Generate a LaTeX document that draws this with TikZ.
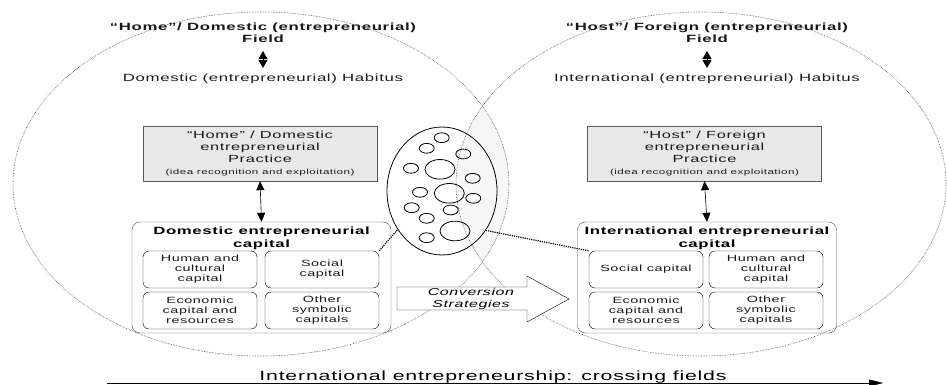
\documentclass[tikz,border=0pt]{standalone}
\usepackage{fontspec}
\setmainfont[FakeStretch=1.6,LetterSpace=6]{Liberation Sans}
\usetikzlibrary{arrows.meta,shapes.geometric}

\tikzset{
  fieldtitle/.style={align=center,inner sep=0pt,text=black!90,font=\fontsize{10.5}{12}\selectfont\bfseries},
  habitus/.style={inner sep=0pt,text=black!90,font=\fontsize{10.5}{12}\selectfont},
  practice/.style={draw=gray!70!black,fill=gray!18,minimum width=234pt,minimum height=55pt,align=center,inner sep=0pt,text=black!90,font=\fontsize{10.3}{12}\selectfont},
  capital/.style={draw=gray!60!black,rounded corners=8pt,minimum width=259pt,minimum height=111pt},
  captitle/.style={align=center,inner sep=0pt,font=\fontsize{10.5}{12.5}\selectfont\bfseries},
  capkind/.style={draw,rounded corners=6pt,minimum width=114pt,minimum height=37pt,align=center,inner sep=0pt,text=black!90,font=\fontsize{9}{10}\selectfont},
  field/.style={draw=black!70,densely dotted,line width=0.6pt},
  bubble/.style={draw,line width=0.8pt},
  link/.style={very thick,densely dotted},
  twoway/.style={line width=0.6pt,{Triangle[width=8pt,length=9pt]}-{Triangle[width=8pt,length=9pt]}},
  bigtwoway/.style={line width=1pt,{Triangle[width=9pt,length=8pt]}-{Triangle[width=9pt,length=8pt]}},
}

\begin{document}
\begin{tikzpicture}[x=1pt,y=-1pt]
  \useasboundingbox (0,0) rectangle (947,385);
  % the two fields and their overlap
  \begin{scope}
    \clip (261,184) ellipse [x radius=248pt,y radius=172pt];
    \fill[gray!6] (701,184) ellipse [x radius=245pt,y radius=172pt];
  \end{scope}
  \draw[field] (261,184) ellipse [x radius=248pt,y radius=172pt];
  \draw[field] (701,184) ellipse [x radius=245pt,y radius=172pt];

  % pool of capitals
  \node[draw,ellipse,line width=0.8pt,minimum width=110pt,minimum height=128pt,inner sep=0pt] (pool) at (442,191) {};
  \foreach \bx/\by/\bs in {441.7/137.7/1, 426.7/148.3/1, 463.3/154/1, 411/168.3/1,
      440/169.3/2, 472.7/178.3/1, 420/192.3/1, 449.3/193.3/2, 473.3/198.3/1,
      411.7/207.7/1, 450.7/210/1, 426.7/218.3/1, 455/231/2, 426.7/237.7/1}
    \draw[bubble] (\bx,\by) ellipse [x radius={7.5pt*\bs},y radius={4.9pt*\bs}];

  % home side
  \node[fieldtitle] (homefield) at (263,33) {``Home''/ Domestic (entrepreneurial)\\Field};
  \node[habitus] (homehabitus) at (263,79) {Domestic (entrepreneurial) Habitus};
  \draw[bigtwoway] (263,51) -- (263,68);
  \node[practice] (homepractice) at (260,153.5) {``Home'' / Domestic\\entrepreneurial\\Practice\\{\fontsize{7.3}{8}\selectfont (idea recognition and exploitation)}};
  \node[capital] (homecapital) at (261.5,277.5) {};
  \node[captitle] (homecaptitle) at (261.5,238.5) {Domestic entrepreneurial\\capital};
  \node[capkind] (dhuman) at (200,269.5) {Human and\\cultural\\capital};
  \node[capkind] (dsocial) at (322,269.5) {Social\\capital};
  \node[capkind] (decon) at (200,310.5) {Economic\\capital and\\resources};
  \node[capkind] (dother) at (322,310.5) {Other\\symbolic\\capitals};
  \draw[twoway] (homepractice.south) -- (homecapital.north);

  % host side
  \node[fieldtitle] (hostfield) at (707,33) {``Host''/ Foreign (entrepreneurial)\\Field};
  \node[habitus] (hosthabitus) at (707,79) {International (entrepreneurial) Habitus};
  \draw[bigtwoway] (707,51) -- (707,68);
  \node[practice] (hostpractice) at (704.5,153.5) {``Host'' / Foreign\\entrepreneurial\\Practice\\{\fontsize{7.3}{8}\selectfont (idea recognition and exploitation)}};
  \node[capital] (hostcapital) at (707,277.5) {};
  \node[captitle] (hostcaptitle) at (707,238.5) {International entrepreneurial\\capital};
  \node[capkind] (isocial) at (646,269.5) {Social capital};
  \node[capkind] (ihuman) at (766,269.5) {Human and\\cultural\\capital};
  \node[capkind] (iecon) at (646,310.5) {Economic\\capital and\\resources};
  \node[capkind] (iother) at (766,310.5) {Other\\symbolic\\capitals};
  \draw[twoway] (hostpractice.south) -- (hostcapital.north);

  % links through the pool
  \draw[link] (dsocial.north east) -- (pool.221);
  \draw[link] (pool.318) -- (isocial.north west);

  % conversion
  \draw[fill=white] (397,287) -- (527,287) -- (527,276) -- (569,299) -- (527,322) -- (527,310) -- (397,310) -- cycle;
  \node[align=center,inner sep=0pt,font=\fontsize{10}{12}\selectfont\itshape] (conv) at (471,298.5) {Conversion\\Strategies};

  % crossing fields
  \coordinate (crossa) at (107,383);
  \coordinate (crossb) at (883,383);
  \draw[-{Triangle[width=7pt,length=14pt]}] (crossa) -- (crossb);
  \node[anchor=base,inner sep=0pt,font=\fontsize{13.3}{15}\selectfont] (crossing) at (493,380) {International entrepreneurship: crossing fields};
\end{tikzpicture}
\end{document}
